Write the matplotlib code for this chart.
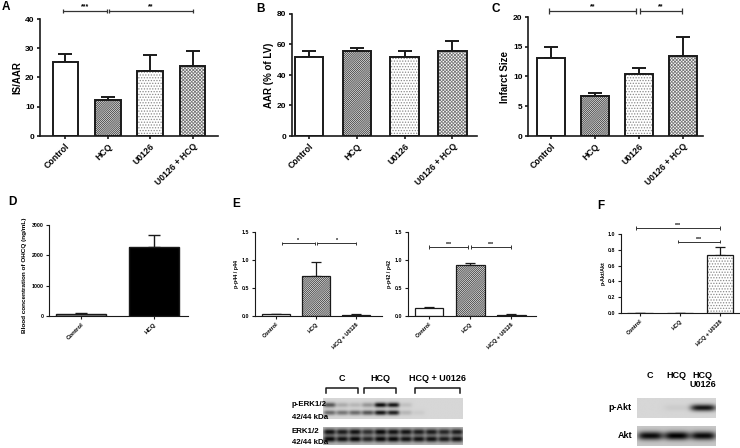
import numpy as np
import matplotlib.pyplot as plt

# figure size in pixels, everything below is placed in these pixel units
W, H = 740, 448
plt.rcParams['font.family'] = ['Liberation Sans', 'DejaVu Sans']
plt.rcParams['font.weight'] = 'bold'
plt.rcParams['axes.labelweight'] = 'bold'
plt.rcParams['hatch.linewidth'] = 0.6

# ---------------------------------------------------------------------------
# data
groups4 = ['Control', 'HCQ', 'U0126', 'U0126 + HCQ']
is_aar = [25.3, 12.2, 22.3, 23.9]
is_aar_err = [2.6, 1.2, 5.5, 5.0]
aar_lv = [51.5, 55.5, 51.5, 56.0]
aar_lv_err = [4.5, 2.5, 4.5, 6.0]
infarct = [13.1, 6.7, 10.4, 13.5]
infarct_err = [1.8, 0.6, 1.0, 3.2]

groups_d = ['Control', 'HCQ']
ohcq = [70, 2270]
ohcq_err = [40, 410]

groups3 = ['Control', 'HCQ', 'HCQ + U0126']
p44 = [0.03, 0.71, 0.02]
p44_err = [0.005, 0.25, 0.02]
p42 = [0.14, 0.91, 0.02]
p42_err = [0.02, 0.04, 0.01]
akt_ratio = [0.0, 0.0, 0.73]
akt_ratio_err = [0.0, 0.0, 0.10]

# western blot band intensities (0 = none, 1 = saturated), one value per lane
perk_44 = [0.6, 0.2, 0.15, 0.3, 0.95, 0.9, 0.1, 0, 0, 0, 0]
perk_42 = [0.5, 0.45, 0.5, 0.6, 0.9, 0.85, 0.15, 0.05, 0, 0, 0]
erk_44 = [0.9, 0.85, 0.9, 0.75, 0.95, 0.9, 0.9, 0.85, 0.85, 0.8, 0.85]
erk_42 = [0.95, 0.9, 0.95, 0.8, 0.95, 0.95, 0.9, 0.9, 0.9, 0.85, 0.9]
erk_groups = [('C', 0, 2), ('HCQ', 3, 5), ('HCQ + U0126', 7, 10)]
pakt = [0.0, 0.05, 0.9]
akt_total = [0.95, 1.0, 0.95]
akt_lanes = ['C', 'HCQ', 'HCQ\nU0126']

EDGE = '#1a1a1a'


def rect(x0, y0, x1, y1):
    # pixel box (top-left, bottom-right) -> figure fraction
    return [x0 / W, 1 - y1 / H, (x1 - x0) / W, (y1 - y0) / H]


def px(x, y):
    return x / W, 1 - y / H


def style_axes(ax, ylim, yticks, labels, ylabel, xlim, fs_tick, fs_x, fs_lab, lw, ytl=None):
    for s in ['top', 'right']:
        ax.spines[s].set_visible(False)
    for s in ['left', 'bottom']:
        ax.spines[s].set_linewidth(lw)
        ax.spines[s].set_color(EDGE)
    ax.set_ylim(*ylim)
    ax.set_xlim(*xlim)
    ax.set_yticks(yticks)
    if ytl is not None:
        ax.set_yticklabels(ytl)
    ax.set_xticks(range(len(labels)))
    ax.set_xticklabels(labels, rotation=45, ha='right', rotation_mode='anchor',
                       fontsize=fs_x, fontweight='bold')
    ax.tick_params(direction='out', length=2.5, width=lw, color=EDGE, pad=1.5)
    ax.tick_params(axis='y', labelsize=fs_tick)
    ax.set_ylabel(ylabel, fontsize=fs_lab, fontweight='bold', labelpad=2)


def draw_bars(ax, vals, errs, faces, hatches, hcols, width, lw, cap):
    x = np.arange(len(vals))
    for i in range(len(vals)):
        ax.bar(x[i], vals[i], width, color=faces[i], edgecolor=hcols[i],
               hatch=hatches[i], linewidth=0, zorder=2)
    ax.bar(x, vals, width, fill=False, edgecolor=EDGE, linewidth=lw, zorder=3)
    ax.errorbar(x, vals, yerr=[np.zeros(len(vals)), errs], fmt='none', ecolor=EDGE,
                elinewidth=lw, capsize=cap, capthick=lw, zorder=1.5)


def sig(ax, x0, x1, y, label, fs, lw, tk):
    kw = dict(color='#333333', lw=lw, clip_on=False, solid_capstyle='butt')
    ax.plot([x0, x1], [y, y], **kw)
    ax.plot([x0, x0], [y - tk, y + tk], **kw)
    ax.plot([x1, x1], [y - tk, y + tk], **kw)
    ax.text((x0 + x1) / 2, y + tk * 0.3, label, ha='center', va='bottom', fontsize=fs)


def blot(ax, bands, bg, centers, sigma, px=20, h=40):
    n = len(bands[0])
    img = np.full((h, n * px), bg, dtype=float)
    yy = np.arange(h)[:, None]
    xx = np.arange(n * px)[None, :]
    for inten, c in zip(bands, centers):
        for i, v in enumerate(inten):
            xc = (i + 0.5) * px
            prof = np.exp(-((yy - c) / sigma) ** 2) * np.exp(-((xx - xc) / (0.48 * px)) ** 4)
            img -= v * bg * prof
    img = np.clip(img, 0, 1)
    ax.imshow(img, cmap='gray', vmin=0, vmax=1, aspect='auto', interpolation='bilinear')
    ax.set_xticks([])
    ax.set_yticks([])
    for s in ax.spines.values():
        s.set_visible(False)


fig = plt.figure(figsize=(W / 100, H / 100), dpi=100)

# ---------------------------------------------------------------------------
# top row: A, B, C
faces4 = ['white', 'white', 'white', 'white']
hatch4 = [None, '////////////////', '......', 'xxxxxxxxxx']
hcol4 = ['white', '#3a3a3a', '#8a8a8a', '#7a7a7a']

axA = fig.add_axes(rect(40, 19, 218, 136))
draw_bars(axA, is_aar, is_aar_err, faces4, hatch4, hcol4, 0.6, 1.4, 5)
style_axes(axA, (0, 40), [0, 10, 20, 30, 40], groups4, 'IS/AAR', (-0.6, 3.6), 6, 6.3, 7, 1.2)
sig(axA, -0.05, 0.97, 42.7, '***', 5, 0.9, 0.8)
sig(axA, 1.03, 3.0, 42.7, '**', 5, 0.9, 0.8)

axB = fig.add_axes(rect(292, 14, 477, 136))
draw_bars(axB, aar_lv, aar_lv_err, faces4, hatch4, hcol4, 0.6, 1.4, 5)
style_axes(axB, (0, 80), [0, 20, 40, 60, 80], groups4, 'AAR (% of LV)', (-0.36, 3.52), 6, 6.3, 7, 1.2)

axC = fig.add_axes(rect(528, 17, 703, 136))
draw_bars(axC, infarct, infarct_err, faces4, hatch4, hcol4, 0.63, 1.4, 5)
style_axes(axC, (0, 20), [0, 5, 10, 15, 20], groups4, 'Infarct Size', (-0.52, 3.45), 6, 6.3, 7, 1.2)
sig(axC, -0.05, 1.93, 21.0, '**', 5, 0.9, 0.45)
sig(axC, 2.02, 2.98, 21.0, '**', 5, 0.9, 0.45)

# ---------------------------------------------------------------------------
# middle row: D, E, F
axD = fig.add_axes(rect(49, 225, 188, 316))
draw_bars(axD, ohcq, ohcq_err, ['#9a9a9a', 'black'], [None, None], ['#9a9a9a', 'black'], 0.68, 1.0, 4)
style_axes(axD, (0, 3000), [0, 1000, 2000, 3000], groups_d,
           'Blood concentration of OHCQ (ng/mL)', (-0.44, 1.47), 3.8, 4.4, 4.6, 0.8)
axD.yaxis.set_label_coords(-0.16, 0.45)

axE1 = fig.add_axes(rect(255, 232, 382, 316))
draw_bars(axE1, p44, p44_err, ['white', 'white', '#333333'], [None, '////////////////', None],
          ['white', '#3a3a3a', '#333333'], 0.7, 0.9, 3.5)
style_axes(axE1, (0, 1.5), [0, 0.5, 1.0, 1.5], groups3, 'p-p44 / p44', (-0.52, 2.65),
           3.8, 4.0, 3.9, 0.8, ytl=['0.0', '0.5', '1.0', '1.5'])
sig(axE1, 0.15, 0.97, 1.30, '*', 3.8, 0.7, 0.03)
sig(axE1, 1.03, 2.0, 1.30, '*', 3.8, 0.7, 0.03)

axE2 = fig.add_axes(rect(408, 232, 536, 316))
draw_bars(axE2, p42, p42_err, ['white', 'white', '#333333'], [None, '////////////////', None],
          ['white', '#3a3a3a', '#333333'], 0.7, 0.9, 3.5)
style_axes(axE2, (0, 1.5), [0, 0.5, 1.0, 1.5], groups3, 'p-p42 / p42', (-0.51, 2.6),
           3.8, 4.0, 3.9, 0.8, ytl=['0.0', '0.5', '1.0', '1.5'])
sig(axE2, 0.0, 0.95, 1.23, '***', 3.8, 0.7, 0.03)
sig(axE2, 1.03, 2.0, 1.23, '***', 3.8, 0.7, 0.03)

axF = fig.add_axes(rect(621, 234, 740, 313))
draw_bars(axF, akt_ratio, akt_ratio_err, ['white'] * 3, [None, None, '......'],
          ['white', 'white', '#8a8a8a'], 0.65, 0.9, 3.5)
style_axes(axF, (0, 1.0), [0, 0.2, 0.4, 0.6, 0.8, 1.0], groups3, 'p-Akt/Akt', (-0.48, 2.5),
           3.8, 4.0, 3.9, 0.8, ytl=['0.0', '0.2', '0.4', '0.6', '0.8', '1.0'])
sig(axF, -0.1, 2.0, 1.076, '***', 3.8, 0.7, 0.02)
sig(axF, 0.95, 2.0, 0.90, '***', 3.8, 0.7, 0.02)

# ---------------------------------------------------------------------------
# western blots
bE1 = fig.add_axes(rect(323, 398, 463, 419))
blot(bE1, [perk_44, perk_42], 0.84, [14, 28], 4.5)
bE2 = fig.add_axes(rect(323, 427, 463, 445))
blot(bE2, [erk_44, erk_42], 0.72, [12, 27], 6.5)
bF1 = fig.add_axes(rect(637, 398, 716, 418))
blot(bF1, [pakt], 0.84, [20], 6.5, px=40)
bF2 = fig.add_axes(rect(637, 426, 716, 446))
blot(bF2, [akt_total], 0.78, [20], 8, px=40)

ov = fig.add_axes([0, 0, 1, 1], zorder=-1)
ov.set_xlim(0, W)
ov.set_ylim(H, 0)
ov.axis('off')

# lane group headers and brackets above the ERK blot
lane_w = (463 - 323) / len(perk_44)
for name, a, b in erk_groups:
    x0 = 323 + a * lane_w + 3
    x1 = 323 + (b + 1) * lane_w - 3
    ov.plot([x0, x0, x1, x1], [393, 388, 388, 393], color=EDGE, lw=1.1)
    ov.text((x0 + x1) / 2, 383, name, ha='center', va='bottom', fontsize=6.5)

for label, y in [('p-ERK1/2', 405), ('42/44 kDa', 417), ('ERK1/2', 431), ('42/44 kDa', 442)]:
    fig.text(*px(292, y), label, ha='left', va='center', fontsize=5.7, zorder=10)

akt_w = (716 - 637) / len(akt_lanes)
for i, name in enumerate(akt_lanes):
    ov.text(637 + (i + 0.5) * akt_w, 371, name, ha='center', va='top', fontsize=6.5,
            linespacing=1.0)
ov.text(632, 408, 'p-Akt', ha='right', va='center', fontsize=6.5)
ov.text(632, 436, 'Akt', ha='right', va='center', fontsize=6.5)

# panel letters
for letter, x, y in [('A', 2, 1), ('B', 256, 3), ('C', 492, 3),
                     ('D', 8, 196), ('E', 232, 198), ('F', 597, 200)]:
    ov.text(x, y, letter, ha='left', va='top', fontsize=8.5, fontweight='bold')

fig.savefig('out.png', dpi=100)
